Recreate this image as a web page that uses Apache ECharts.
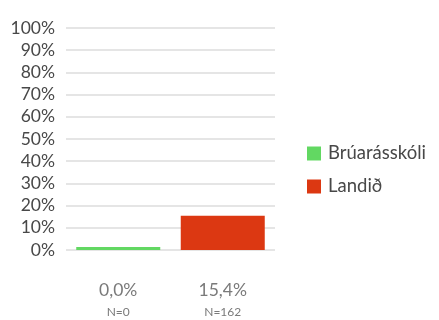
<!DOCTYPE html>
<html>
<head>
<meta charset="utf-8">
<script src="https://cdn.jsdelivr.net/npm/echarts@6/dist/echarts.min.js"></script>
<style>
  html, body { margin: 0; padding: 0; background: #ffffff; }
  #chart { width: 439px; height: 320px; }
</style>
</head>
<body>
<div id="chart"></div>
<script>
// Share of respondents, school vs. national figure
const seriesNames = ['Brúarásskóli', 'Landið'];
const percentValues = [0, 15.4];
const respondentCounts = [0, 162];
const seriesColors = ['#62d862', '#dc3812'];
const yTickMax = 100;
const yTickStep = 10;

const fmt = v => v.toFixed(1).replace('.', ',') + '%';
const categories = percentValues.map((v, i) => fmt(v) + '\n' + 'N=' + respondentCounts[i]);

const chart = echarts.init(document.getElementById('chart'), null, { renderer: 'canvas' });

const series = seriesNames.map((name, i) => ({
  name: name,
  type: 'bar',
  barWidth: 84,
  barGap: '-100%',
  barMinHeight: 3,
  itemStyle: { color: seriesColors[i] },
  data: percentValues.map((v, j) => (j === i ? v : '-')),
  animation: false
}));

chart.setOption({
  animation: false,
  textStyle: { fontFamily: 'Lato' },
  grid: { left: 66, right: 164, top: 28, bottom: 70, containLabel: false },
  legend: {
    orient: 'vertical',
    left: 307,
    top: 144,
    padding: 0,
    itemWidth: 14,
    itemHeight: 14,
    itemGap: 14,
    icon: 'rect',
    textStyle: { fontSize: 18.5, color: '#484848', fontFamily: 'Lato', lineHeight: 19, padding: [0, 0, 0, 2] },
    data: seriesNames
  },
  xAxis: {
    type: 'category',
    data: categories,
    axisLine: { show: false },
    axisTick: { show: false },
    axisLabel: {
      margin: 29,
      formatter: function (val) {
        const parts = val.split('\n');
        return '{v|' + parts[0] + '}\n{n|' + parts[1] + '}';
      },
      rich: {
        v: { fontSize: 17.5, color: '#7a7a7a', lineHeight: 22, fontFamily: 'Lato' },
        n: { fontSize: 12, color: '#7a7a7a', lineHeight: 22, fontFamily: 'Lato' }
      }
    }
  },
  yAxis: {
    type: 'value',
    min: 0,
    max: yTickMax,
    interval: yTickStep,
    axisLine: { show: false },
    axisTick: { show: false },
    splitLine: { lineStyle: { color: '#dcdcdc', width: 1.5 } },
    axisLabel: {
      margin: 11,
      fontSize: 17.5,
      color: '#484848',
      fontFamily: 'Lato',
      formatter: '{value}%'
    }
  },
  series: series
});
</script>
</body>
</html>
